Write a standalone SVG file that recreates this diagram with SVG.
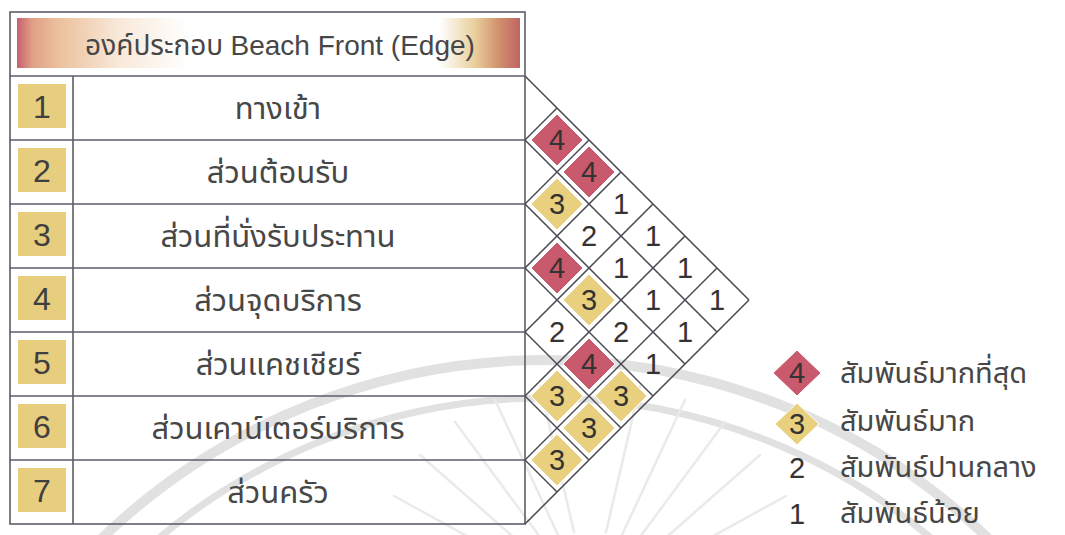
<svg xmlns="http://www.w3.org/2000/svg" xmlns:xlink="http://www.w3.org/1999/xlink" width="1065" height="535" viewBox="0 0 1065 535">
  <style>
    .th { font-family: "Noto Sans Thai", "Noto Sans", "Liberation Sans", sans-serif; fill: #474747; }
    .lat { font-family: "Liberation Sans", Arial, sans-serif; }
    .row { font-size: 31px; text-anchor: middle; }
    .num { font-family: "Liberation Sans", Arial, sans-serif; font-size: 32px; fill: #3f3f3f; text-anchor: middle; }
    .dg { font-family: "Liberation Sans", Arial, sans-serif; font-size: 29px; fill: #333; text-anchor: middle; }
    .ln { stroke: #5d5d68; stroke-width: 1.6; fill: none; }
    .grid { stroke: #4a4a52; stroke-width: 1.5; fill: none; }
    .nbox { fill: #e7cd7e; }
    .red { fill: #c9596d; stroke: #fff; stroke-width: 1; }
    .yel { fill: #e8d07f; stroke: #fff; stroke-width: 1; }
    .leg { font-size: 29px; }
    .wm { fill: none; stroke: #dadada; }
    .ray { stroke: #e6e6e6; stroke-width: 2.5; stroke-linecap: round; }
  </style>
  <defs>
    <linearGradient id="hdr" x1="0" y1="0" x2="1" y2="0">
      <stop offset="0" stop-color="#c75f6f"/>
      <stop offset="0.03" stop-color="#e0a086"/>
      <stop offset="0.08" stop-color="#ebbf9b"/>
      <stop offset="0.2" stop-color="#f8e8d8"/>
      <stop offset="0.34" stop-color="#ffffff"/>
      <stop offset="0.84" stop-color="#ffffff"/>
      <stop offset="0.91" stop-color="#e9cf9b"/>
      <stop offset="0.96" stop-color="#cf8e6c"/>
      <stop offset="1" stop-color="#bf6466"/>
    </linearGradient>
    <path id="dm" d="M0,-26 L26,0 L0,26 L-26,0 Z"/>
  </defs>
  <rect width="1065" height="535" fill="#ffffff"/>

  <g id="watermark" opacity="0.8">
    <circle class="wm" cx="545" cy="1000" r="640" stroke-width="10"/>
    <circle class="wm" cx="545" cy="1000" r="602" stroke-width="7"/>
    <g transform="translate(590,600)">
      <line class="ray" x1="-70" y1="0" x2="-220" y2="-10"/>
      <line class="ray" x1="-68" y1="-16" x2="-212" y2="-58"/>
      <line class="ray" x1="-63" y1="-31" x2="-196" y2="-104"/>
      <line class="ray" x1="-55" y1="-44" x2="-170" y2="-145"/>
      <line class="ray" x1="-44" y1="-55" x2="-135" y2="-178"/>
      <line class="ray" x1="-31" y1="-63" x2="-95" y2="-200"/>
      <line class="ray" x1="-16" y1="-68" x2="-50" y2="-214"/>
      <line class="ray" x1="16" y1="-68" x2="50" y2="-214"/>
      <line class="ray" x1="31" y1="-63" x2="95" y2="-200"/>
      <line class="ray" x1="44" y1="-55" x2="135" y2="-178"/>
      <line class="ray" x1="55" y1="-44" x2="170" y2="-145"/>
      <line class="ray" x1="63" y1="-31" x2="196" y2="-104"/>
      <line class="ray" x1="68" y1="-16" x2="212" y2="-58"/>
      <line class="ray" x1="70" y1="0" x2="220" y2="-10"/>
    </g>
  </g>

  <g id="table">
    <rect class="ln" x="10" y="12" width="515" height="512"/>
    <rect x="17" y="18" width="503" height="50" fill="url(#hdr)"/>
    <text class="th" x="280" y="55" font-size="28" text-anchor="middle">องค์ประกอบ <tspan class="lat">Beach Front (Edge)</tspan></text>
    <line class="ln" x1="10" y1="76" x2="525" y2="76"/>
    <line class="ln" x1="73" y1="76" x2="73" y2="524"/>
  </g>

  <g id="row1">
    <rect class="nbox" x="18" y="84" width="48" height="44"/>
    <text class="num" x="42" y="118">1</text>
    <text class="th row" x="278" y="119">ทางเข้า</text>
    <line class="ln" x1="10" y1="140" x2="525" y2="140"/>
  </g>
  <g id="row2">
    <rect class="nbox" x="18" y="148" width="48" height="44"/>
    <text class="num" x="42" y="182">2</text>
    <text class="th row" x="278" y="183">ส่วนต้อนรับ</text>
    <line class="ln" x1="10" y1="204" x2="525" y2="204"/>
  </g>
  <g id="row3">
    <rect class="nbox" x="18" y="212" width="48" height="44"/>
    <text class="num" x="42" y="246">3</text>
    <text class="th row" x="278" y="247">ส่วนที่นั่งรับประทาน</text>
    <line class="ln" x1="10" y1="268" x2="525" y2="268"/>
  </g>
  <g id="row4">
    <rect class="nbox" x="18" y="276" width="48" height="44"/>
    <text class="num" x="42" y="310">4</text>
    <text class="th row" x="278" y="311">ส่วนจุดบริการ</text>
    <line class="ln" x1="10" y1="332" x2="525" y2="332"/>
  </g>
  <g id="row5">
    <rect class="nbox" x="18" y="340" width="48" height="44"/>
    <text class="num" x="42" y="374">5</text>
    <text class="th row" x="278" y="375">ส่วนแคชเชียร์</text>
    <line class="ln" x1="10" y1="396" x2="525" y2="396"/>
  </g>
  <g id="row6">
    <rect class="nbox" x="18" y="404" width="48" height="44"/>
    <text class="num" x="42" y="438">6</text>
    <text class="th row" x="278" y="439">ส่วนเคาน์เตอร์บริการ</text>
    <line class="ln" x1="10" y1="460" x2="525" y2="460"/>
  </g>
  <g id="row7">
    <rect class="nbox" x="18" y="468" width="48" height="44"/>
    <text class="num" x="42" y="502">7</text>
    <text class="th row" x="278" y="503">ส่วนครัว</text>
  </g>

  <g id="connectors">
    <line class="grid" x1="525" y1="76" x2="749" y2="300"/>
    <line class="grid" x1="525" y1="140" x2="717" y2="332"/>
    <line class="grid" x1="525" y1="204" x2="685" y2="364"/>
    <line class="grid" x1="525" y1="268" x2="653" y2="396"/>
    <line class="grid" x1="525" y1="332" x2="621" y2="428"/>
    <line class="grid" x1="525" y1="396" x2="589" y2="460"/>
    <line class="grid" x1="525" y1="460" x2="557" y2="492"/>
    <line class="grid" x1="525" y1="140" x2="557" y2="108"/>
    <line class="grid" x1="525" y1="204" x2="589" y2="140"/>
    <line class="grid" x1="525" y1="268" x2="621" y2="172"/>
    <line class="grid" x1="525" y1="332" x2="653" y2="204"/>
    <line class="grid" x1="525" y1="396" x2="685" y2="236"/>
    <line class="grid" x1="525" y1="460" x2="717" y2="268"/>
    <line class="grid" x1="525" y1="524" x2="749" y2="300"/>
  </g>

  <g id="matrix">
    <use href="#dm" xlink:href="#dm" class="red" x="557" y="140"/>
    <use href="#dm" xlink:href="#dm" class="red" x="589" y="172"/>
    <use href="#dm" xlink:href="#dm" class="yel" x="557" y="204"/>
    <use href="#dm" xlink:href="#dm" class="red" x="557" y="268"/>
    <use href="#dm" xlink:href="#dm" class="yel" x="589" y="300"/>
    <use href="#dm" xlink:href="#dm" class="red" x="589" y="364"/>
    <use href="#dm" xlink:href="#dm" class="yel" x="621" y="396"/>
    <use href="#dm" xlink:href="#dm" class="yel" x="557" y="396"/>
    <use href="#dm" xlink:href="#dm" class="yel" x="589" y="428"/>
    <use href="#dm" xlink:href="#dm" class="yel" x="557" y="460"/>
    <text class="dg" x="557" y="150">4</text>
    <text class="dg" x="589" y="182">4</text>
    <text class="dg" x="621" y="214">1</text>
    <text class="dg" x="653" y="246">1</text>
    <text class="dg" x="685" y="278">1</text>
    <text class="dg" x="717" y="310">1</text>
    <text class="dg" x="557" y="214">3</text>
    <text class="dg" x="589" y="246">2</text>
    <text class="dg" x="621" y="278">1</text>
    <text class="dg" x="653" y="310">1</text>
    <text class="dg" x="685" y="342">1</text>
    <text class="dg" x="557" y="278">4</text>
    <text class="dg" x="589" y="310">3</text>
    <text class="dg" x="621" y="342">2</text>
    <text class="dg" x="653" y="374">1</text>
    <text class="dg" x="557" y="342">2</text>
    <text class="dg" x="589" y="374">4</text>
    <text class="dg" x="621" y="406">3</text>
    <text class="dg" x="557" y="406">3</text>
    <text class="dg" x="589" y="438">3</text>
    <text class="dg" x="557" y="470">3</text>
  </g>

  <g id="legend">
    <path class="red" d="M797,350 L821,373 L797,396 L773,373 Z"/>
    <text class="dg" x="797" y="383">4</text>
    <text class="th leg" x="840" y="383">สัมพันธ์มากที่สุด</text>
    <path class="yel" d="M797,403 L819,424 L797,445 L775,424 Z"/>
    <text class="dg" x="797" y="434">3</text>
    <text class="th leg" x="840" y="431">สัมพันธ์มาก</text>
    <text class="dg" x="797" y="478">2</text>
    <text class="th leg" x="840" y="477">สัมพันธ์ปานกลาง</text>
    <text class="dg" x="797" y="524">1</text>
    <text class="th leg" x="840" y="523">สัมพันธ์น้อย</text>
  </g>
</svg>
